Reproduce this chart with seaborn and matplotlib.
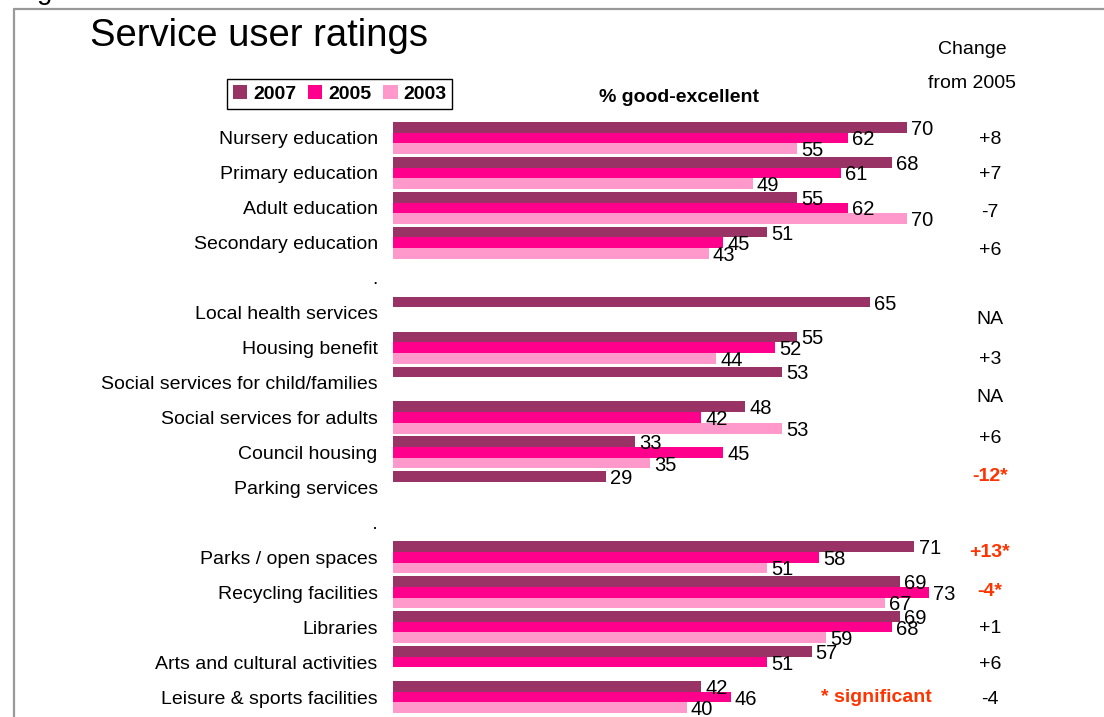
import numpy as np
import pandas as pd
import seaborn as sns
import matplotlib.pyplot as plt
from matplotlib.lines import Line2D

# ---- data -------------------------------------------------------------
categories = [
    "Nursery education", "Primary education", "Adult education",
    "Secondary education", ".", "Local health services", "Housing benefit",
    "Social services for child/families", "Social services for adults",
    "Council housing", "Parking services", " .", "Parks / open spaces",
    "Recycling facilities", "Libraries", "Arts and cultural activities",
    "Leisure & sports facilities",
]
v2007 = [70, 68, 55, 51, None, 65, 55, 53, 48, 33, 29, None, 71, 69, 69, 57, 42]
v2005 = [62, 61, 62, 45, None, None, 52, None, 42, 45, None, None, 58, 73, 68, 51, 46]
v2003 = [55, 49, 70, 43, None, None, 44, None, 53, 35, None, None, 51, 67, 59, None, 40]
years = ["2007", "2005", "2003"]

change_labels = ["+8", "+7", "-7", "+6", "NA", "+3", "NA", "+6", "-12*",
                 "+13*", "-4*", "+1", "+6", "-4"]
change_significant = [False, False, False, False, False, False, False, False,
                      True, True, True, False, False, False]
# row positions of the change column (text box lines)
change_rows = [0.0, 1.0, 2.09, 3.15, 5.15, 6.27, 7.36, 8.53, 9.62,
               11.82, 12.91, 13.97, 15.0, 16.0]

palette = {"2007": "#993366", "2005": "#FF008C", "2003": "#FF99CC"}
sig_color = "#FF3300"

# ---- long-form table ---------------------------------------------------
rows = []
for yr, vals in zip(years, [v2007, v2005, v2003]):
    for cat, v in zip(categories, vals):
        rows.append({"service": cat, "year": yr,
                     "pct": np.nan if v is None else float(v)})
df = pd.DataFrame(rows)

sns.set_theme(style="white")
plt.rcParams["font.family"] = ["Liberation Sans", "DejaVu Sans"]
plt.rcParams.update({"text.color": "black", "axes.labelcolor": "black",
                     "xtick.color": "black", "ytick.color": "black"})

W, H = 1104, 717
fig = plt.figure(figsize=(W / 100, H / 100), dpi=100)
ax = fig.add_axes([393 / W, 0, 711 / W, 596.5 / H])

sns.barplot(data=df, y="service", x="pct", hue="year", order=categories,
            hue_order=years, palette=palette, orient="h", width=0.916,
            saturation=1, dodge=True, errorbar=None, ax=ax, legend=True,
            linewidth=0, edgecolor="none")

for cont in ax.containers:
    labels = ax.bar_label(cont, fmt="{:.0f}", padding=3, fontsize=14.5,
                          color="black")
    for t in labels:
        t.set_va("center_baseline")

ax.set_xlim(0, 711 / 7.343)
ax.set_ylim(16.5 + 2.5 / 34.94, -0.5)
ax.set_xlabel("")
ax.set_ylabel("")
ax.set_xticks([])
for s in ax.spines.values():
    s.set_visible(False)
ax.tick_params(axis="y", length=0, pad=11, labelsize=14, labelcolor="black")

# change column
xc = (990 - 393) / 7.343
for lab, sig, r in zip(change_labels, change_significant, change_rows):
    ax.text(xc, r, lab, ha="center", va="center_baseline", fontsize=14,
            color=sig_color if sig else "black",
            fontweight="bold" if sig else "normal", clip_on=False)

# legend
sns.move_legend(ax, loc="center", bbox_to_anchor=(339.5 / W, 1 - 94 / H),
                bbox_transform=fig.transFigure, ncol=3, title=None,
                frameon=True, fancybox=False, edgecolor="black",
                framealpha=1, handlelength=0.75, handleheight=0.75,
                handletextpad=0.3, columnspacing=0.6, borderpad=0.3,
                borderaxespad=0, prop={"weight": "bold", "size": 14})
leg = ax.get_legend()
leg.get_frame().set_linewidth(1.0)

# titles and notes
fig.text(90 / W, 1 - 46 / H, "Service user ratings", fontsize=27.5,
         va="baseline", ha="left")
fig.text(679 / W, 1 - 96 / H, "% good-excellent", fontsize=14,
         fontweight="bold", ha="center", va="center_baseline")
fig.text(972 / W, 1 - 47 / H, "Change", fontsize=14, ha="center",
         va="center_baseline")
fig.text(972 / W, 1 - 81 / H, "from 2005", fontsize=14, ha="center",
         va="center_baseline")
fig.text(876 / W, 1 - 695 / H, "* significant", fontsize=14,
         fontweight="bold", color=sig_color, ha="center",
         va="center_baseline")
fig.text(37 / W, 1 + 1 / H, "g", fontsize=20, ha="left", va="baseline")

# slide frame
fig.add_artist(Line2D([14 / W, 14 / W], [0, 1 - 9 / H], color="#999999",
                      lw=1.6, transform=fig.transFigure))
fig.add_artist(Line2D([14 / W, 1], [1 - 9 / H, 1 - 9 / H], color="#999999",
                      lw=1.6, transform=fig.transFigure))

fig.savefig("out.png", dpi=100)
